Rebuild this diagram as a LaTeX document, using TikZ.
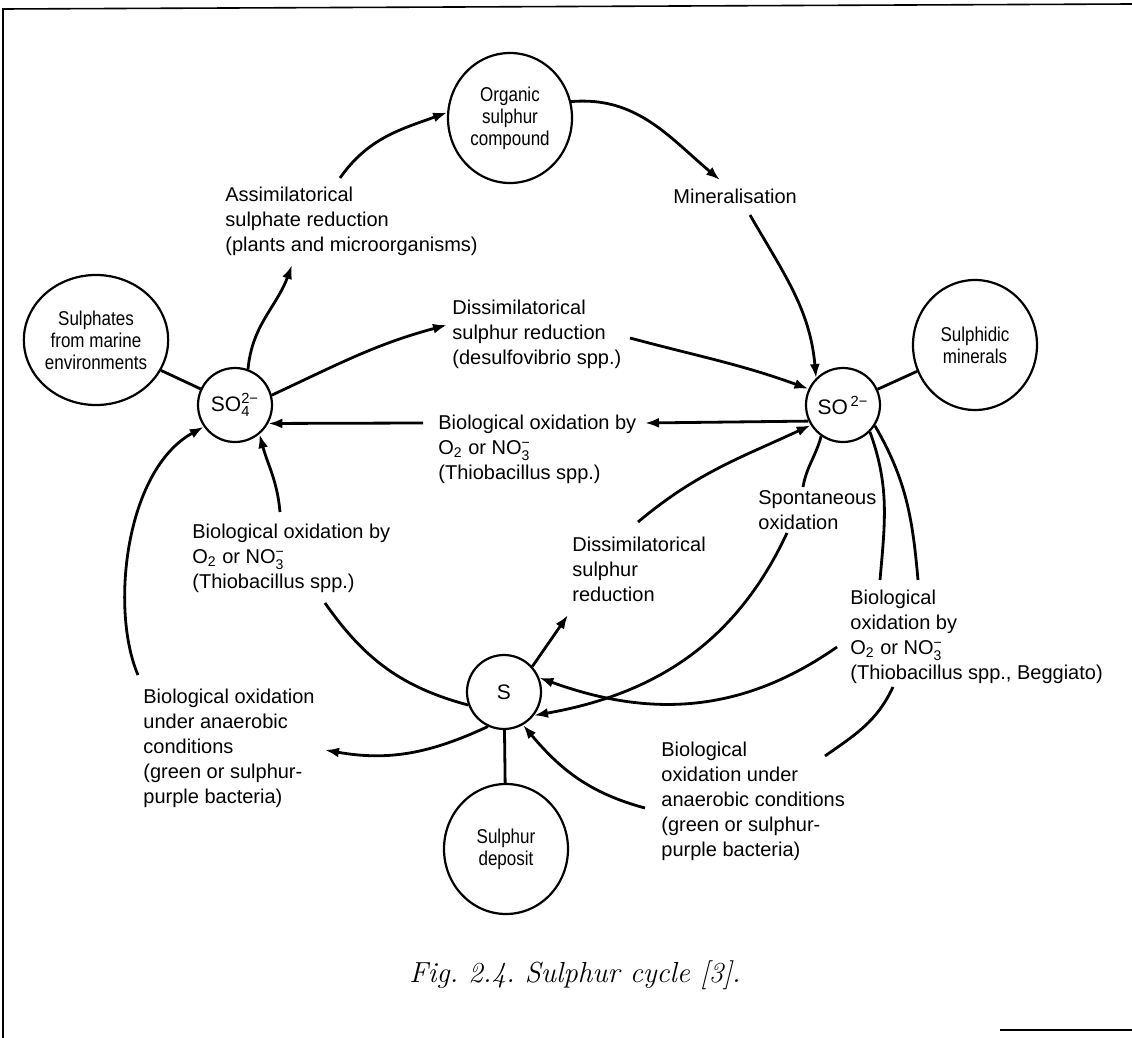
\documentclass[tikz,border=0pt]{standalone}
\usepackage{amsmath}
\usepackage{fontspec}
\setsansfont{Liberation Sans}
\newfontfamily\condsf[FakeStretch=0.85]{Liberation Sans}
\usepackage{tikz}
\usetikzlibrary{arrows.meta,shapes.geometric}

\tikzset{
    pool/.style={ellipse, draw, line width=1.1pt, minimum width=62pt, minimum height=65pt, inner sep=0pt, align=center, font=\condsf\fontsize{10}{11}\selectfont},
    ion/.style={circle, draw, line width=1.1pt, minimum size=37pt, inner sep=0pt, font=\sffamily\fontsize{10.5}{12}\selectfont},
    note/.style={anchor=north west, inner sep=0pt, align=left, font=\sffamily\fontsize{10}{12.5}\selectfont},
    flow/.style={line width=1.4pt, -{Latex[length=7pt,width=5pt]}},
    link/.style={line width=1.4pt},
}

\begin{document}
\begin{tikzpicture}[x=0.5pt, y=0.5pt]
        \useasboundingbox (0,0) rectangle (1132,-1038);

        \draw[line width=0.8pt] (3,-1038) -- (3,-9) -- (1132,-4);
        \draw[line width=0.8pt] (1000,-1030) -- (1132,-1030);

        \node[pool] (org) at (510,-118) {Organic\\sulphur\\compound};
        \node[pool] (sea) at (96,-340) {Sulphates\\from marine\\environments};
        \node[pool] (mins) at (975,-345) {Sulphidic\\minerals};
        \node[pool] (dep) at (506,-849) {Sulphur\\deposit};
        \node[ion] (so4) at (235,-405) {SO$^{\text{2−}}_{\text{4}}$};
        \node[ion] (so2) at (843,-405) {SO$^{\,\text{2−}}$};
        \node[ion] (s) at (504,-692) {S};

        \node[note] (assim) at (225,-187) {Assimilatorical\\sulphate reduction\\(plants and microorganisms)};
        \node[note] (miner) at (673,-189) {Mineralisation};
        \node[note] (desulf) at (452,-300) {Dissimilatorical\\sulphur reduction\\(desulfovibrio spp.)};
        \node[note] (oxmid) at (438,-415) {Biological oxidation by\\O$_{\text{2}}$ or NO$^{\text{−}}_{\text{3}}$\\(Thiobacillus spp.)};
        \node[note] (oxleft) at (192,-524) {Biological oxidation by\\O$_{\text{2}}$ or NO$^{\text{−}}_{\text{3}}$\\(Thiobacillus spp.)};
        \node[note] (spont) at (758,-490) {Spontaneous\\oxidation};
        \node[note] (dissim) at (572,-537) {Dissimilatorical\\sulphur\\reduction};
        \node[note] (oxright) at (850,-590) {Biological\\oxidation by\\O$_{\text{2}}$ or NO$^{\text{−}}_{\text{3}}$\\(Thiobacillus spp., Beggiato)};
        \node[note] (anright) at (661,-742) {Biological\\oxidation under\\anaerobic conditions\\(green or sulphur-\\purple bacteria)};
        \node[note] (anleft) at (143,-689) {Biological oxidation\\under anaerobic\\conditions\\(green or sulphur-\\purple bacteria)};
        \node[font=\frenchspacing\itshape\fontsize{14.5}{16}\selectfont] (cap) at (575,-975) {Fig. 2.4. Sulphur cycle [3].};

        % loose ends next to the labels
        \coordinate (assimin) at (292,-265);
        \coordinate (assimout) at (340,-178);
        \coordinate (minerin) at (720,-180);
        \coordinate (minerout) at (750,-215);
        \coordinate (desulfin) at (447,-325);
        \coordinate (desulfout) at (630,-338);
        \coordinate (oxmidin) at (645,-423);
        \coordinate (oxmidout) at (423,-423);
        \coordinate (oxleftin) at (325,-603);
        \coordinate (oxleftout) at (280,-512);
        \coordinate (anleftin) at (325,-750);
        \coordinate (anleftout) at (138,-675);
        \coordinate (dissimin) at (568,-615);
        \coordinate (dissimout) at (638,-522);
        \coordinate (spontin) at (803,-487);
        \coordinate (spontout) at (787,-533);
        \coordinate (oxrightin) at (880,-580);
        \coordinate (oxrightout) at (837,-647);
        \coordinate (anrightin) at (918,-580);
        \coordinate (anrightmid) at (893,-687);
        \coordinate (anrightmidb) at (825,-756);
        \coordinate (anrightout) at (645,-808);

        \draw[link] (sea) -- (so4);
        \draw[link] (so2) -- (mins);
        \draw[link] (s) -- (dep);

        \draw[flow] (so4.70) to[out=85, in=-110] (assimin);
        \draw[flow] (assimout) to[out=55, in=200] (org.175);
        \draw[flow] (org.15) to[out=5, in=140] (minerin);
        \draw[flow] (minerout) to[out=-60, in=95] (so2.135);
        \draw[flow] (so4.15) to[out=25, in=195] (desulfin);
        \draw[flow] (desulfout) to[out=-15, in=160] (so2.155);
        \draw[flow] (so2.205) -- (oxmidin);
        \draw[flow] (oxmidout) -- (so4.-29);

        \draw[link] (s.200) to[out=165, in=-55] (oxleftin);
        \draw[flow] (oxleftout) to[out=95, in=-75] (so4.-50);
        \draw[flow] (s.245) to[out=205, in=-10] (anleftin);
        \draw[flow] (anleftout) .. controls (110,-610) and (125,-470) .. (so4.215);

        \draw[flow] (s.42) -- (dissimin);
        \draw[flow] (dissimout) to[out=40, in=205] (so2.212);
        \draw[link] (so2.235) to[out=-105, in=80] (spontin);
        \draw[flow] (spontout) to[out=-115, in=10] (s.-38);

        \draw[link] (so2.-45) to[out=-70, in=85] (oxrightin);
        \draw[flow] (oxrightout) to[out=215, in=-20] (s.22);
        \draw[link] (so2.-33) to[out=-60, in=95] (anrightin);
        \draw[link] (anrightmid) to[out=-115, in=35] (anrightmidb);
        \draw[flow] (anrightout) to[out=165, in=-50] (s.-60);

\end{tikzpicture}
\end{document}
